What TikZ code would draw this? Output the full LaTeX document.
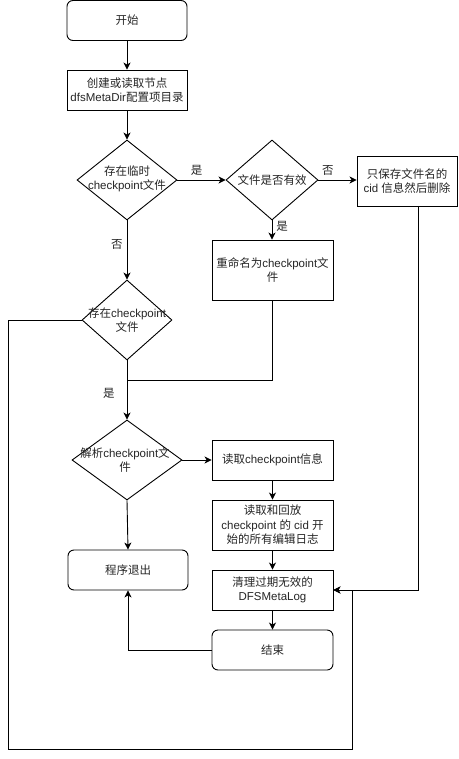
\documentclass[tikz,border=0pt]{standalone}
\usepackage{fontspec}
\setmainfont{Liberation Sans}
\newfontfamily\cjkfont{Noto Sans CJK SC}
\newcommand{\zh}[1]{{\cjkfont #1}}
\usetikzlibrary{shapes.geometric,arrows.meta}
\tikzset{
  base/.style={draw=black, line width=0.9pt, align=center, inner sep=1pt,
    font=\fontsize{11.5}{14.5}\selectfont, text=black!85},
  boxn/.style={base, rectangle, minimum width=121pt},
  rbox/.style={base, rectangle, rounded corners=6pt, minimum width=120pt, minimum height=40pt},
  dia/.style={draw=black, line width=0.9pt, diamond, inner sep=0pt},
  lbl/.style={align=center, inner sep=0pt, font=\fontsize{11.5}{14.5}\selectfont, text=black!85},
  conn/.style={line width=0.9pt, draw=black},
  arr/.style={conn, -{Stealth[length=7pt,width=7pt,inset=2pt]}}
}
\begin{document}
\begin{tikzpicture}[x=1pt,y=-1pt]
\useasboundingbox[fill=white] (0,0) rectangle (458,759);

\node[rbox] (start) at (127,20.5) {\zh{开始}};
\node[boxn, minimum width=120pt, minimum height=40pt] (init) at (127,90) {\zh{创建或读取节点}\\dfsMetaDir\zh{配置项目录}};

\node[dia, minimum width=100pt, minimum height=80pt] (d1) at (127,180) {};
\node[lbl] (t1) at (127,179) {\zh{存在临时}\\checkpoint\zh{文件}};

\node[dia, minimum width=92pt, minimum height=80pt] (d2) at (272,180) {};
\node[lbl] (t2) at (272,180) {\zh{文件是否有效}};

\node[boxn, minimum width=100pt, minimum height=50pt] (rb) at (407,181) {\zh{只保存文件名的}\\cid \zh{信息然后删除}};

\node[boxn, minimum height=60pt] (rn) at (272.5,270) {\zh{重命名为}checkpoint\zh{文}\\\zh{件}};

\node[dia, minimum width=90pt, minimum height=80pt] (d3) at (127,320) {};
\node[lbl] (t3) at (127,320) {\zh{存在}checkpoint\\\zh{文件}};

\node[dia, minimum width=110pt, minimum height=80pt] (d4) at (127,460) {};
\node[lbl] (t4) at (125,460) {\zh{解析}checkpoint\zh{文}\\\zh{件}};

\node[boxn, minimum height=40pt] (r1) at (272.5,460) {\zh{读取}checkpoint\zh{信息}};
\node[boxn, minimum height=50pt] (r2) at (272.5,525) {\zh{读取和回放}\\checkpoint \zh{的} cid \zh{开}\\\zh{始的所有编辑日志}};
\node[boxn, minimum height=40pt] (cl) at (272.5,590) {\zh{清理过期无效的}\\DFSMetaLog};
\node[rbox, minimum width=121pt] (end) at (272.5,650) {\zh{结束}};
\node[rbox] (ex) at (128,570) {\zh{程序退出}};

% connectors
\draw[arr] (start) -- (init);
\draw[arr] (init) -- (d1);
\draw[arr] (d1.east) -- node[lbl, above=4pt, pos=0.4] {\zh{是}} (d2.west);
\draw[arr] (d2.east) -- node[lbl, above=4pt, pos=0.25] {\zh{否}} (rb.west |- d2.east);
\draw[arr] (d2.south) -- node[lbl, right=4pt, pos=0.3] {\zh{是}} (rn.north -| d2.south);
\draw[arr] (d1.south) -- node[lbl, left=4pt, pos=0.4] {\zh{否}} (d3.north);
\coordinate (j) at (127,380);
\draw[conn] (rn.south -| d2.south) |- (j);
\draw[arr] (d3.south) -- node[lbl, left=12pt, pos=0.55] {\zh{是}} (d4.north);
\coordinate (lc) at (8,320);
\coordinate (lb) at (8,749);
\coordinate (rbt) at (352,749);
\coordinate (rm) at (352,590);
\draw[arr] (d3.west) -- (lc) -- (lb) -- (rbt) -- (rm) -- (cl.east);
\coordinate (rs) at (418,206);
\coordinate (rd) at (418,590);
\draw[arr] (rs) -- (rd) -- (cl.east);
\draw[arr] (d4.east) -- (r1.west);
\draw[arr] (r1) -- (r2);
\draw[arr] (r2) -- (cl);
\draw[arr] (cl) -- (end);
\draw[arr] (end.west) -| (ex.south);
\draw[arr] (d4.south) -- (ex.north);
\end{tikzpicture}
\end{document}
